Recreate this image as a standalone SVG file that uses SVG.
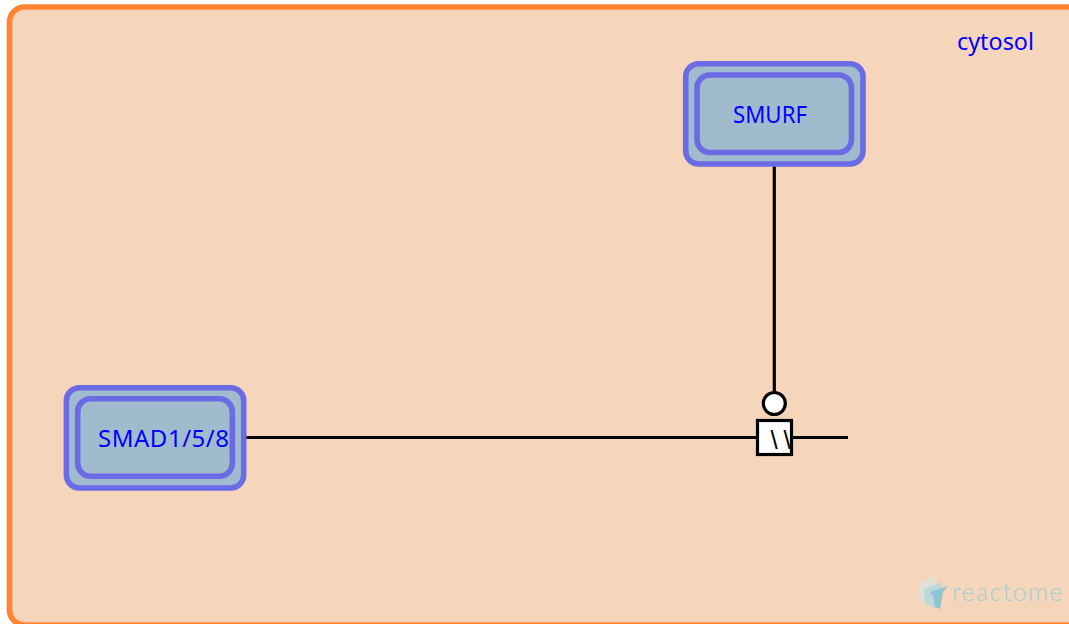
<svg xmlns="http://www.w3.org/2000/svg" width="1069" height="624" viewBox="0 0 1069 624">
<style>
.lbl{font-family:"Noto Sans","DejaVu Sans",sans-serif;font-size:24px;fill:#0000ff}
.outer,.inner{fill:#a0bbcd;stroke:#6b6be6;stroke-width:5.6}
.line{fill:none;stroke:#000;stroke-width:3.200}
.sym{fill:#fff;stroke:#000;stroke-width:3.200}
</style>
<g id="compartment-cytosol">
<rect x="9.500" y="7" width="1100" height="618" rx="15" fill="#f5d6ba" stroke="#ff8533" stroke-width="5.700"/>
<text class="lbl" x="957" y="50" textLength="77" lengthAdjust="spacingAndGlyphs">cytosol</text>
</g>
<g id="connectors">
<path class="line" d="M774.300 166V392"/>
<path class="line" d="M246 437.500H757M792 437.500H848"/>
</g>
<g id="node-smurf">
<rect class="outer" x="685.700" y="63.700" width="177.300" height="100.300" rx="13"/>
<rect class="inner" x="697" y="75" width="154.500" height="77.500" rx="13"/>
<text class="lbl" x="733" y="122.500" textLength="74" lengthAdjust="spacingAndGlyphs">SMURF</text>
</g>
<g id="node-smad158">
<rect class="outer" x="66.400" y="387.700" width="177.300" height="100.300" rx="13"/>
<rect class="inner" x="77.700" y="398.700" width="154.600" height="77.600" rx="13"/>
<text class="lbl" x="98" y="446.500" textLength="131" lengthAdjust="spacing">SMAD1/5/8</text>
</g>
<g id="reaction">
<circle class="sym" cx="774.300" cy="403.500" r="11"/>
<rect class="sym" x="757.500" y="420.500" width="34" height="34"/>
<text x="770.500" y="449" font-family="Liberation Sans, sans-serif" font-size="26" letter-spacing="5.800" fill="#000">\\</text>
</g>
<g id="logo">
<polygon points="919,584 933,576 935,600 930,606 920,601" fill="#dfe1d8"/>
<polygon points="924,589 942,582 941,600 935,609 925,603" fill="#bcd8db"/>
<polygon points="930,592 948,586 943,592 940,609 935,607 933,596" fill="#8fc4d0"/>
<text x="952" y="601" font-family="Lato, sans-serif" font-weight="300" font-size="25" letter-spacing="1.400" fill="#a3cdd6">reactome</text>
</g>
</svg>
